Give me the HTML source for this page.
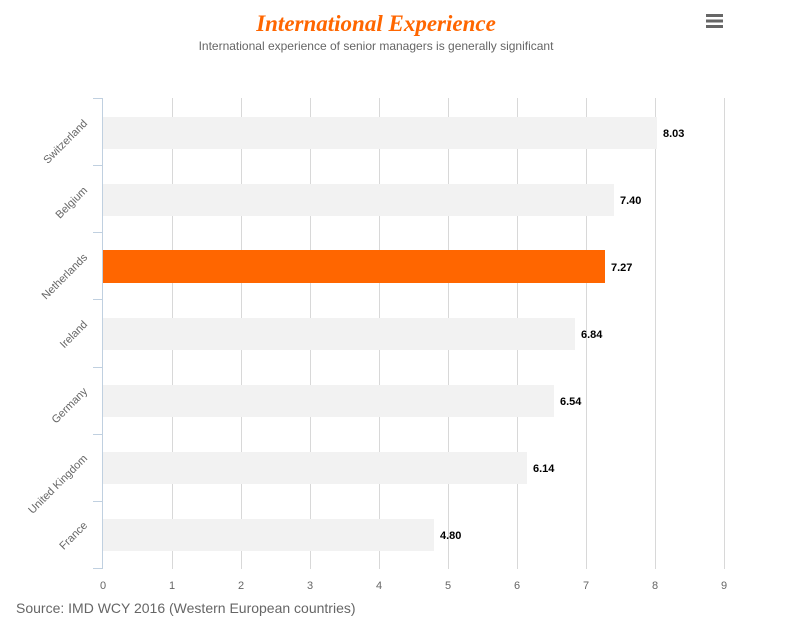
<!DOCTYPE html>
<html><head><style>
body{margin:0;background:#fff;}
svg{display:block;font-family:"Liberation Sans",sans-serif;}
</style></head><body>
<svg width="785" height="632" viewBox="0 0 785 632">
<text x="376" y="31" text-anchor="middle" font-family="Liberation Serif" font-style="italic" font-weight="bold" font-size="23" fill="#ff6600">International Experience</text>
<text x="376" y="50" text-anchor="middle" font-size="12" fill="#666">International experience of senior managers is generally significant</text>
<g fill="#666"><rect x="706" y="14" width="17" height="3"/><rect x="706" y="19.5" width="17" height="3"/><rect x="706" y="25" width="17" height="3"/></g>
<g stroke="#d8d8d8" stroke-width="1">
<line x1="172.5" y1="98" x2="172.5" y2="569"/><line x1="241.5" y1="98" x2="241.5" y2="569"/><line x1="310.5" y1="98" x2="310.5" y2="569"/><line x1="379.5" y1="98" x2="379.5" y2="569"/><line x1="448.5" y1="98" x2="448.5" y2="569"/><line x1="517.5" y1="98" x2="517.5" y2="569"/><line x1="586.5" y1="98" x2="586.5" y2="569"/><line x1="655.5" y1="98" x2="655.5" y2="569"/><line x1="724.5" y1="98" x2="724.5" y2="569"/>
</g>
<g stroke="#c0d0e0" stroke-width="1">
<line x1="102.5" y1="98" x2="102.5" y2="569"/>
<line x1="93" y1="98.5" x2="102" y2="98.5"/><line x1="93" y1="165.5" x2="102" y2="165.5"/><line x1="93" y1="232.5" x2="102" y2="232.5"/><line x1="93" y1="299.5" x2="102" y2="299.5"/><line x1="93" y1="367.5" x2="102" y2="367.5"/><line x1="93" y1="434.5" x2="102" y2="434.5"/><line x1="93" y1="501.5" x2="102" y2="501.5"/><line x1="93" y1="568.5" x2="102" y2="568.5"/>
</g>
<g fill="#f2f2f2">
<rect x="103" y="117" width="554" height="32"/>
<rect x="103" y="184" width="511" height="32"/>
<rect x="103" y="318" width="472" height="32"/>
<rect x="103" y="385" width="451" height="32"/>
<rect x="103" y="452" width="424" height="32"/>
<rect x="103" y="519" width="331" height="32"/>
</g>
<rect x="103" y="250" width="502" height="33" fill="#ff6600"/>
<g font-size="11" font-weight="bold" fill="#000">
<text x="663" y="137">8.03</text><text x="620" y="204">7.40</text><text x="611" y="271">7.27</text><text x="581" y="338">6.84</text><text x="560" y="405">6.54</text><text x="533" y="472">6.14</text><text x="440" y="539">4.80</text>
</g>
<g font-size="11" fill="#666" text-anchor="end">
<text transform="translate(88,124) rotate(-45)">Switzerland</text>
<text transform="translate(88,191) rotate(-45)">Belgium</text>
<text transform="translate(88,258) rotate(-45)">Netherlands</text>
<text transform="translate(88,325) rotate(-45)">Ireland</text>
<text transform="translate(88,392) rotate(-45)">Germany</text>
<text transform="translate(88,459) rotate(-45)">United Kingdom</text>
<text transform="translate(88,526) rotate(-45)">France</text>
</g>
<g font-size="11" fill="#666" text-anchor="middle">
<text x="103" y="589">0</text><text x="172" y="589">1</text><text x="241" y="589">2</text><text x="310" y="589">3</text><text x="379" y="589">4</text><text x="448" y="589">5</text><text x="517" y="589">6</text><text x="586" y="589">7</text><text x="655" y="589">8</text><text x="724" y="589">9</text>
</g>
<text x="16" y="613" font-size="14" fill="#666">Source: IMD WCY 2016 (Western European countries)</text>
</svg>
</body></html>
